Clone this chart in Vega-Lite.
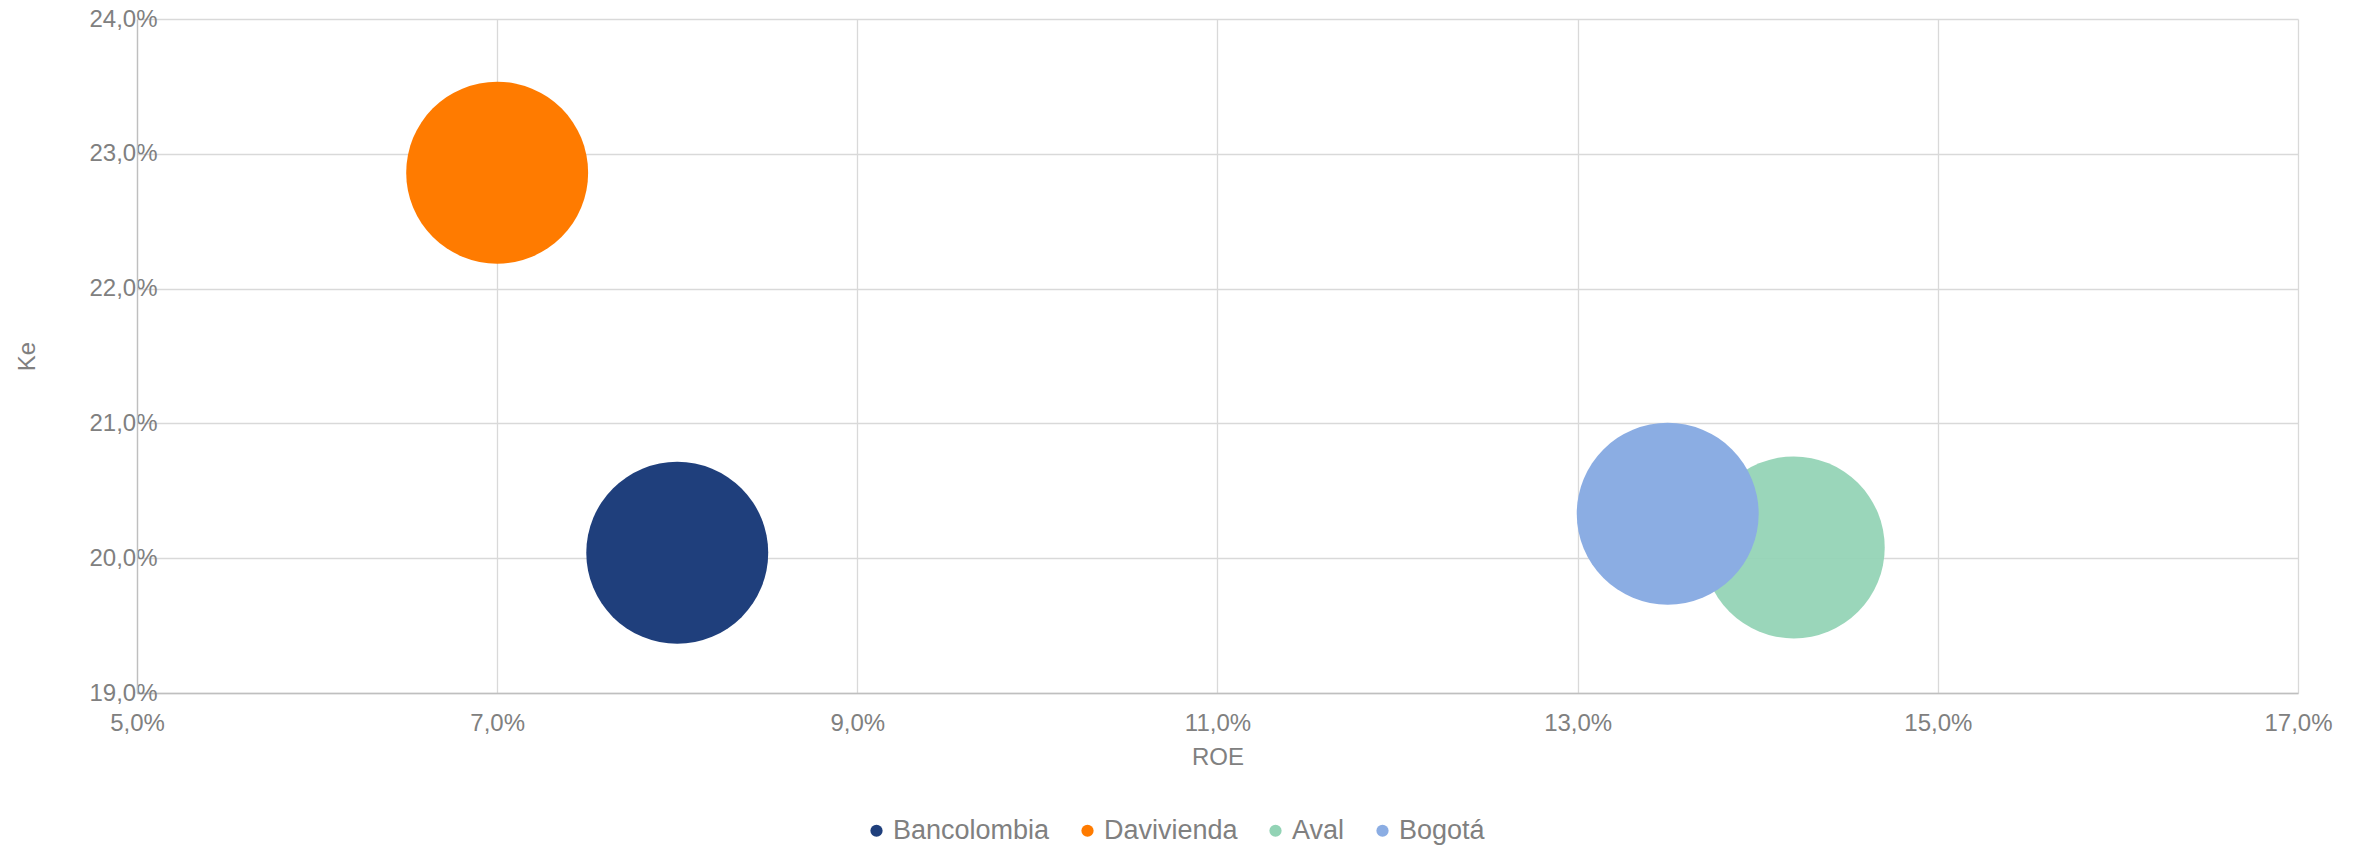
{
  "$schema": "https://vega.github.io/schema/vega-lite/v6.json",
  "autosize": "none",
  "padding": {"left": 137, "top": 19, "right": 63, "bottom": 152},
  "width": 2161,
  "height": 674,
  "background": "white",
  "config": {
    "locale": {"number": {"decimal": ",", "thousands": ".", "grouping": [3], "currency": ["$", ""]}},
    "font": "Liberation Sans",
    "view": {"stroke": null},
    "axis": {
      "labelFont": "Liberation Sans",
      "titleFont": "Liberation Sans",
      "labelColor": "#808080",
      "titleColor": "#808080",
      "labelFontSize": 24,
      "titleFontSize": 24,
      "titleFontWeight": "normal",
      "gridColor": "#d9d9d9",
      "gridWidth": 1.3,
      "domainColor": "#bfbfbf",
      "domainWidth": 1.3,
      "ticks": false,
      "tickSize": 0
    }
  },
  "data": {
    "values": [
      {"banco": "Bancolombia", "ROE": 0.080, "Ke": 0.2004},
      {"banco": "Davivienda", "ROE": 0.070, "Ke": 0.2286},
      {"banco": "Aval", "ROE": 0.142, "Ke": 0.2008},
      {"banco": "Bogotá", "ROE": 0.135, "Ke": 0.2033}
    ]
  },
  "mark": {"type": "point", "filled": true, "shape": "circle", "size": 33100, "strokeWidth": 0},
  "encoding": {
    "x": {
      "field": "ROE", "type": "quantitative",
      "scale": {"domain": [0.05, 0.17], "nice": false, "zero": false},
      "axis": {"values": [0.05, 0.07, 0.09, 0.11, 0.13, 0.15, 0.17], "format": ".1%", "title": "ROE", "labelPadding": 18, "titlePadding": 10, "labelFlush": false}
    },
    "y": {
      "field": "Ke", "type": "quantitative",
      "scale": {"domain": [0.19, 0.24], "nice": false, "zero": false},
      "axis": {"values": [0.19, 0.20, 0.21, 0.22, 0.23, 0.24], "format": ".1%", "title": "Ke", "labelPadding": -20, "titlePadding": 49, "labelFlush": false}
    },
    "color": {
      "field": "banco", "type": "nominal",
      "scale": {"domain": ["Bancolombia", "Davivienda", "Aval", "Bogotá"], "range": ["#1f3f7c", "#ff7b00", "#92d3b5", "#8badE3"]},
      "legend": {
        "title": null,
        "orient": "none",
        "direction": "horizontal",
        "columns": 4,
        "legendX": 726,
        "legendY": 798,
        "symbolType": "circle",
        "symbolSize": 150,
        "symbolStrokeWidth": 0,
        "labelFontSize": 27,
        "labelColor": "#808080",
        "labelFont": "Liberation Sans",
        "labelOffset": 3,
        "columnPadding": 24,
        "padding": 0
      }
    },
    "opacity": {"condition": {"test": "datum.banco === 'Aval'", "value": 0.93}, "value": 1}
  }
}
